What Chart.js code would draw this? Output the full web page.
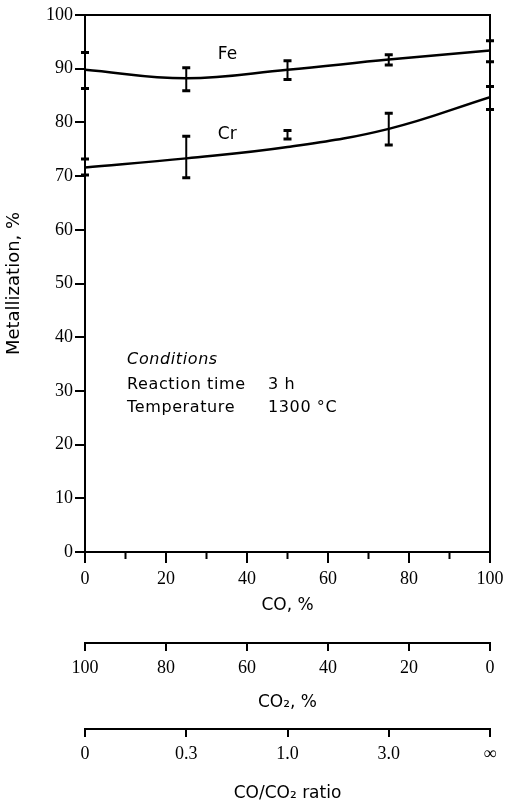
<!DOCTYPE html>
<html>
<head>
<meta charset="utf-8">
<script src="https://cdn.jsdelivr.net/npm/chart.js@4.4.0/dist/chart.umd.min.js"></script>
<style>
  body { margin: 0; background: #fff; }
</style>
</head>
<body>
<canvas id="myChart" width="509" height="804"></canvas>
<script>
const coPercent = [0, 25, 50, 75, 100];
// fitted curves
const feCurve = [89.8, 88.2, 89.8, 91.7, 93.4];
const crCurve = [71.6, 73.3, 75.4, 78.8, 84.7];
// error bar limits
const feLow = [86.3, 85.9, 88.0, 90.7, 91.3];
const feHigh = [93.0, 90.2, 91.5, 92.6, 95.2];
const crLow = [70.2, 69.7, 76.9, 75.8, 82.4];
const crHigh = [73.2, 77.4, 78.5, 81.7, 86.7];
// CO/CO2 ratio axis
const ratioTicks = [0, 25, 50, 75, 100];
const ratioLabels = ['0', '0.3', '1.0', '3.0', '∞'];
// unlabeled short ticks on the CO axis
const coMinorTicks = [10, 30, 50, 70, 90];

const serif = 'Liberation Serif';
const sans = 'DejaVu Sans';

const ctx = document.getElementById('myChart').getContext('2d');

const overlay = {
    id: 'overlay',
    afterDatasetsDraw(chart) {
        const { ctx, chartArea: a, scales: { x, y } } = chart;
        ctx.save();
        ctx.strokeStyle = '#000';
        ctx.fillStyle = '#000';
        // top and right frame
        ctx.lineWidth = 2;
        ctx.beginPath();
        ctx.moveTo(a.left, a.top);
        ctx.lineTo(a.right, a.top);
        ctx.lineTo(a.right, a.bottom);
        ctx.stroke();
        // short minor ticks
        ctx.beginPath();
        coMinorTicks.forEach(v => {
            const px = x.getPixelForValue(v);
            ctx.moveTo(px, a.bottom);
            ctx.lineTo(px, a.bottom + 7);
        });
        ctx.stroke();
        // error bars
        [[feLow, feHigh], [crLow, crHigh]].forEach(([lo, hi]) => {
            coPercent.forEach((v, i) => {
                const px = x.getPixelForValue(v);
                const y1 = y.getPixelForValue(lo[i]);
                const y2 = y.getPixelForValue(hi[i]);
                ctx.lineWidth = 2;
                ctx.beginPath();
                ctx.moveTo(px, y1);
                ctx.lineTo(px, y2);
                ctx.stroke();
                ctx.lineWidth = 3;
                ctx.beginPath();
                ctx.moveTo(px - 4, y1); ctx.lineTo(px + 4, y1);
                ctx.moveTo(px - 4, y2); ctx.lineTo(px + 4, y2);
                ctx.stroke();
            });
        });
        // labels
        ctx.textBaseline = 'middle';
        ctx.font = '17px "' + sans + '"';
        ctx.fillText('Fe', x.getPixelForValue(32.8), y.getPixelForValue(92.6));
        ctx.fillText('Cr', x.getPixelForValue(32.8), y.getPixelForValue(77.7));
        ctx.letterSpacing = '0.6px';
        ctx.font = 'italic 16px "' + sans + '"';
        ctx.fillText('Conditions', x.getPixelForValue(10.4), y.getPixelForValue(35.7));
        ctx.font = '16px "' + sans + '"';
        ctx.fillText('Reaction time', x.getPixelForValue(10.4), y.getPixelForValue(31.1));
        ctx.fillText('3 h', x.getPixelForValue(45.2), y.getPixelForValue(31.1));
        ctx.fillText('Temperature', x.getPixelForValue(10.4), y.getPixelForValue(26.8));
        ctx.fillText('1300 °C', x.getPixelForValue(45.2), y.getPixelForValue(26.8));
        ctx.restore();
    }
};

const axisGrid = { drawOnChartArea: false, color: '#000', lineWidth: 2 };
const axisBorder = { display: true, color: '#000', width: 2 };

new Chart(ctx, {
    type: 'line',
    data: {
        datasets: [{
            label: 'Fe',
            data: coPercent.map((v, i) => ({ x: v, y: feCurve[i] })),
            borderColor: '#000',
            borderWidth: 2.5,
            pointRadius: 0,
            tension: 0.4,
            xAxisID: 'x'
        }, {
            label: 'Cr',
            data: coPercent.map((v, i) => ({ x: v, y: crCurve[i] })),
            borderColor: '#000',
            borderWidth: 2.5,
            pointRadius: 0,
            tension: 0.4,
            xAxisID: 'x'
        }]
    },
    options: {
        responsive: false,
        animation: false,
        layout: { padding: { top: 15, right: 19, left: 0, bottom: 0 } },
        plugins: { legend: { display: false }, tooltip: { enabled: false } },
        scales: {
            x: {
                type: 'linear', position: 'bottom', weight: 0,
                min: 0, max: 100,
                grid: {
                    ...axisGrid, tickLength: 11,
                    tickColor: c => (c.tick && c.tick.value % 20 === 0 ? '#000' : 'rgba(0,0,0,0)')
                },
                border: axisBorder,
                ticks: {
                    stepSize: 10, autoSkip: false, maxRotation: 0, color: '#000', padding: 5,
                    font: { family: serif, size: 18 },
                    callback: v => (v % 20 === 0 ? v : '')
                },
                title: { display: true, text: 'CO, %', color: '#000', font: { family: sans, size: 17 }, padding: { top: 0, bottom: 27 } },
                afterFit: s => { s.height = 91; }
            },
            co2: {
                type: 'linear', position: 'bottom', weight: 1,
                min: 0, max: 100, reverse: true,
                grid: { ...axisGrid, tickLength: 8 },
                border: axisBorder,
                ticks: { stepSize: 20, maxRotation: 0, color: '#000', padding: 6, font: { family: serif, size: 18 } },
                title: { display: true, text: 'CO₂, %', color: '#000', font: { family: sans, size: 17 }, padding: { top: 0, bottom: 16 } },
                afterFit: s => { s.height = 86; }
            },
            ratio: {
                type: 'linear', position: 'bottom', weight: 2,
                min: 0, max: 100,
                grid: { ...axisGrid, tickLength: 8 },
                border: axisBorder,
                afterBuildTicks: s => { s.ticks = ratioTicks.map(v => ({ value: v })); },
                ticks: {
                    autoSkip: false, maxRotation: 0, color: '#000', padding: 6,
                    font: { family: serif, size: 18 },
                    callback: (v, i) => ratioLabels[i]
                },
                title: { display: true, text: 'CO/CO₂ ratio', color: '#000', font: { family: sans, size: 17 }, padding: { top: 0, bottom: 0 } },
                afterFit: s => { s.height = 75; }
            },
            y: {
                type: 'linear', position: 'left',
                min: 0, max: 100,
                grid: { ...axisGrid, tickLength: 10 },
                border: axisBorder,
                ticks: { stepSize: 10, color: '#000', padding: 2, font: { family: serif, size: 18 } },
                title: { display: true, text: 'Metallization, %', color: '#000', font: { family: sans, size: 18 }, padding: { top: 4, bottom: 0 } },
                afterFit: s => { s.width = 85; }
            }
        }
    },
    plugins: [overlay]
});
</script>
</body>
</html>
